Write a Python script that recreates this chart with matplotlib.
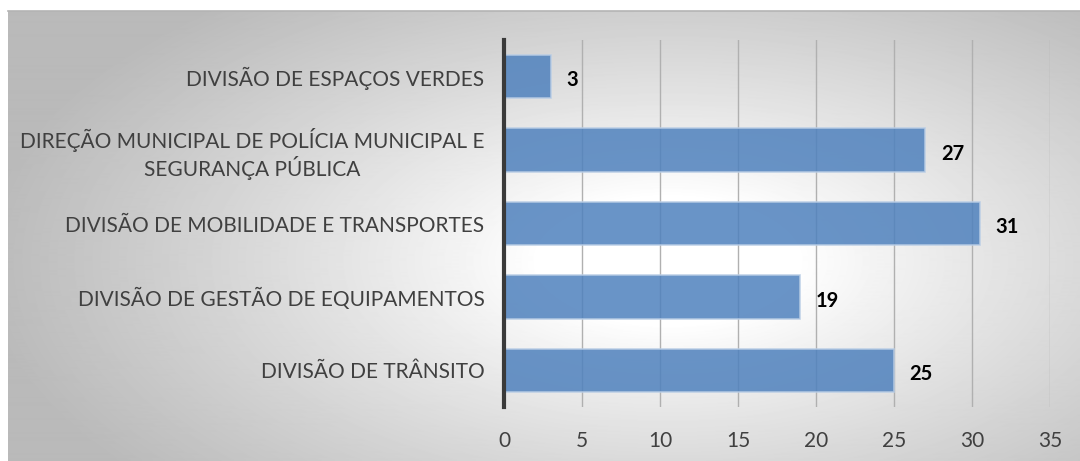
import numpy as np
import matplotlib
matplotlib.use("Agg")
from matplotlib import pyplot as plt

# categories from bottom to top
categories = [
    "DIVISÃO DE TRÂNSITO",
    "DIVISÃO DE GESTÃO DE EQUIPAMENTOS",
    "DIVISÃO DE MOBILIDADE E TRANSPORTES",
    "DIREÇÃO MUNICIPAL DE POLÍCIA MUNICIPAL E\nSEGURANÇA PÚBLICA",
    "DIVISÃO DE ESPAÇOS VERDES",
]
values = [25, 19, 30.5, 27, 3]
value_labels = ["25", "19", "31", "27", "3"]
xticks = [0, 5, 10, 15, 20, 25, 30, 35]

plt.rcParams['font.family'] = ['Lato', 'DejaVu Sans']

W, H = 1080, 461
fig = plt.figure(figsize=(W / 100, H / 100), dpi=100)

# radial gradient background of the chart frame
bg = fig.add_axes([8 / W, 0, 1 - 8 / W, 1 - 11 / H], zorder=-10)
yy, xx = np.mgrid[0:450, 0:1072]
cx, cy = 660, 250
t = np.sqrt(((xx - cx) / 650.0) ** 2 + ((yy - cy) / 320.0) ** 2)
shade = 1 - 0.27 * np.clip((t - 0.2) / 0.85, 0, 1) ** 0.9
bg.imshow(shade, cmap='gray', vmin=0, vmax=1, aspect='auto', interpolation='bilinear')
bg.set_axis_off()
fig.add_artist(plt.Line2D([8 / W, 1], [1 - 11.5 / H, 1 - 11.5 / H], color='#b4b4b4', lw=1.2))

ax = fig.add_axes([504 / W, 1 - 407 / H, (1050 - 504) / W, (407 - 40) / H])
ax.patch.set_alpha(0)

y = np.arange(len(categories))
ax.barh(y, values, height=0.59, color='#4f81bd', alpha=0.85,
        edgecolor='#b9cde5', linewidth=1.2, zorder=3)

for yi, v, lab in zip(y, values, value_labels):
    ax.text(v + 1.0, yi - 0.05, lab, va='center', ha='left', fontsize=14.5,
            fontweight='bold', color='black')

ax.set_xlim(0, 35)
ax.set_ylim(-0.5, len(categories) - 0.5)
ax.set_xticks(xticks)
ax.set_yticks(y)
ax.set_yticklabels(categories, fontsize=15, color='#404040', multialignment='center')
ax.tick_params(axis='x', length=0, pad=17, labelsize=15, labelcolor='#404040')
ax.tick_params(axis='y', length=0, pad=14)
ax.xaxis.grid(True, color='#b0b0b0', linewidth=1, zorder=1)
ax.set_axisbelow(True)

for s in ['top', 'right', 'bottom']:
    ax.spines[s].set_visible(False)
ax.spines['left'].set_color('#3a3a3a')
ax.spines['left'].set_linewidth(3)
ax.spines['left'].set_zorder(5)

fig.savefig('out.png', dpi=100)
